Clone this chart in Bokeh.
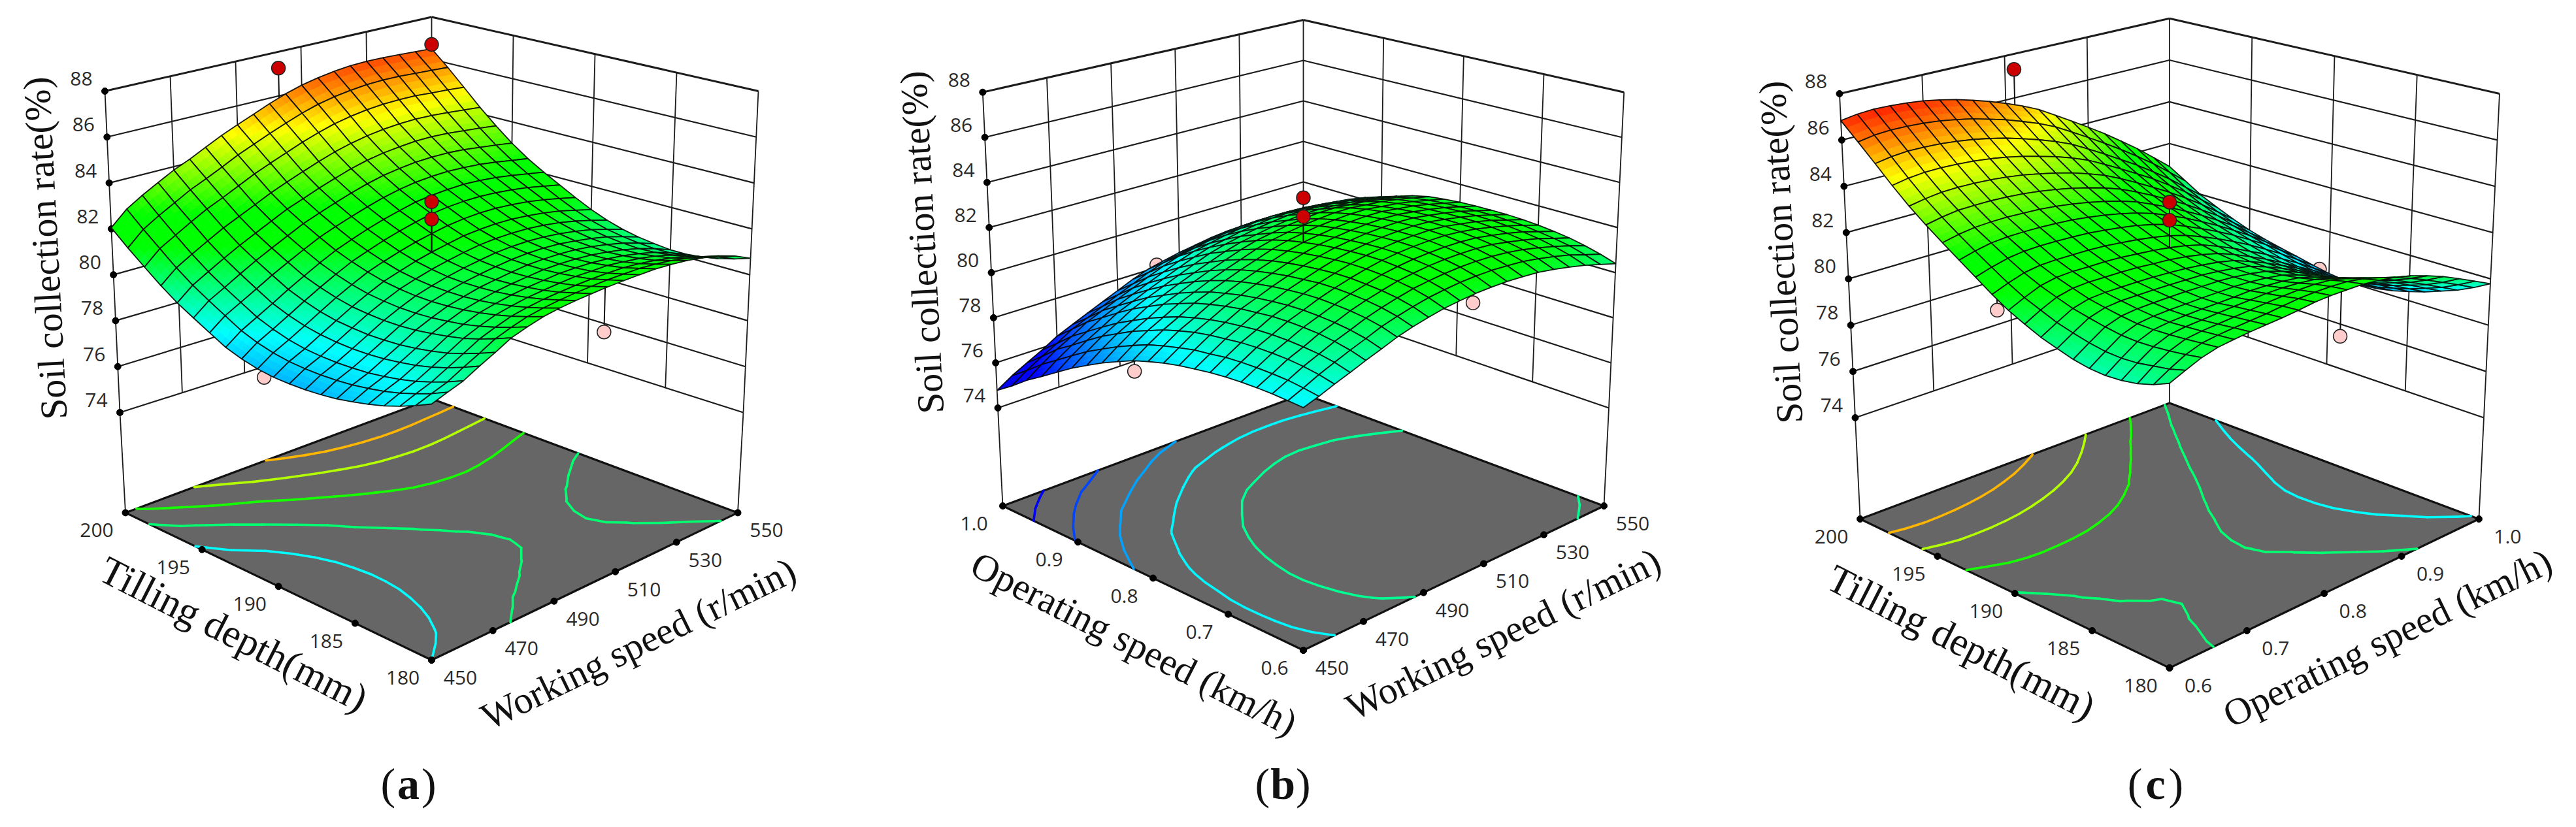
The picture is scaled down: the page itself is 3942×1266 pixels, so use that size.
import numpy as np
from bokeh.plotting import figure
from bokeh.layouts import row
from bokeh.models import ColumnDataSource
from bokeh.core.properties import value
from bokeh.embed import file_html
from bokeh.resources import INLINE

Z_TICKS = [74, 76, 78, 80, 82, 84, 86, 88]
TILLING = [180, 185, 190, 195, 200]
WORKING = [450, 470, 490, 510, 530, 550]
OPERATING = [0.6, 0.7, 0.8, 0.9, 1.0]

# Response tables, 21 x 21 mesh nodes. Rows: second factor low to high; columns: first factor low to high.
# All numbers are estimates from the picture: the rims were read against the axes and contours,
# the inner nodes were worked out by hand from those readings and corrected against the contour lines,
# not measured one by one.
Z_A = [
[79.60,79.30,79.03,78.80,78.62,78.47,78.34,78.26,78.21,78.20,78.22,78.31,78.47,78.70,79.06,79.43,79.82,80.30,80.85,81.42,82.05],
[79.83,79.54,79.29,79.08,78.91,78.78,78.68,78.62,78.59,78.60,78.65,78.76,78.94,79.19,79.57,79.96,80.37,80.87,81.45,82.04,82.68],
[80.05,79.77,79.53,79.32,79.16,79.04,78.94,78.90,78.88,78.90,78.96,79.09,79.29,79.55,79.93,80.32,80.75,81.26,81.84,82.45,83.10],
[80.40,80.12,79.87,79.66,79.50,79.38,79.29,79.24,79.23,79.26,79.33,79.46,79.66,79.92,80.30,80.70,81.13,81.64,82.23,82.83,83.48],
[80.72,80.45,80.21,80.00,79.85,79.73,79.64,79.60,79.59,79.63,79.70,79.84,80.05,80.31,80.68,81.07,81.49,82.01,82.60,83.21,83.85],
[81.07,80.81,80.57,80.37,80.23,80.11,80.02,79.97,79.96,80.00,80.07,80.22,80.42,80.67,81.03,81.41,81.82,82.32,82.91,83.52,84.15],
[81.28,81.04,80.82,80.64,80.49,80.39,80.31,80.27,80.27,80.32,80.40,80.56,80.77,81.03,81.37,81.74,82.15,82.64,83.24,83.85,84.50],
[81.46,81.24,81.04,80.87,80.74,80.64,80.57,80.54,80.55,80.61,80.71,80.88,81.10,81.36,81.70,82.07,82.48,82.97,83.58,84.20,84.85],
[81.57,81.36,81.17,81.01,80.89,80.80,80.74,80.73,80.75,80.82,80.93,81.12,81.35,81.62,81.96,82.33,82.74,83.25,83.87,84.50,85.15],
[81.64,81.45,81.27,81.13,81.02,80.94,80.90,80.89,80.92,81.01,81.14,81.34,81.59,81.87,82.20,82.58,83.01,83.52,84.15,84.80,85.45],
[81.69,81.51,81.33,81.20,81.11,81.04,81.00,81.01,81.06,81.16,81.31,81.53,81.79,82.08,82.42,82.81,83.25,83.78,84.43,85.08,85.75],
[81.73,81.55,81.38,81.26,81.17,81.11,81.09,81.11,81.17,81.29,81.45,81.68,81.97,82.26,82.62,83.02,83.48,84.02,84.68,85.35,86.02],
[81.75,81.58,81.41,81.31,81.23,81.18,81.17,81.19,81.27,81.40,81.58,81.82,82.12,82.43,82.78,83.19,83.66,84.21,84.89,85.57,86.24],
[81.76,81.58,81.42,81.30,81.23,81.19,81.19,81.23,81.31,81.45,81.64,81.90,82.21,82.52,82.89,83.30,83.79,84.36,85.04,85.73,86.40],
[81.76,81.58,81.41,81.30,81.21,81.17,81.18,81.23,81.32,81.46,81.67,81.94,82.25,82.57,82.95,83.38,83.87,84.46,85.15,85.84,86.52],
[81.71,81.52,81.34,81.22,81.14,81.11,81.13,81.18,81.28,81.44,81.65,81.93,82.25,82.59,82.97,83.41,83.93,84.52,85.22,85.92,86.60],
[81.63,81.43,81.24,81.12,81.04,81.00,81.03,81.08,81.19,81.36,81.58,81.87,82.20,82.55,82.93,83.40,83.93,84.54,85.24,85.95,86.63],
[81.50,81.28,81.10,80.98,80.89,80.86,80.89,80.95,81.07,81.25,81.48,81.78,82.12,82.47,82.87,83.34,83.89,84.51,85.23,85.94,86.62],
[81.33,81.10,80.91,80.78,80.70,80.67,80.71,80.79,80.91,81.09,81.34,81.65,82.00,82.35,82.76,83.24,83.81,84.45,85.17,85.89,86.58],
[81.07,80.84,80.65,80.52,80.43,80.42,80.47,80.56,80.69,80.89,81.15,81.48,81.84,82.21,82.63,83.14,83.73,84.38,85.12,85.85,86.54],
[80.72,80.50,80.32,80.20,80.13,80.13,80.20,80.30,80.45,80.67,80.95,81.30,81.68,82.07,82.50,83.02,83.63,84.30,85.05,85.80,86.50],
]
Z_B = [
[79.00,79.05,79.10,79.12,79.12,79.10,79.05,78.97,78.88,78.75,78.58,78.38,78.10,77.80,77.45,77.08,76.65,76.20,75.77,75.25,74.78],
[79.22,79.33,79.42,79.46,79.48,79.48,79.45,79.37,79.30,79.17,79.01,78.83,78.56,78.27,77.93,77.57,77.14,76.69,76.24,75.71,75.20],
[79.48,79.64,79.75,79.82,79.85,79.86,79.84,79.77,79.70,79.59,79.43,79.24,78.98,78.71,78.37,78.01,77.58,77.12,76.68,76.10,75.55],
[79.72,79.91,80.03,80.10,80.15,80.17,80.15,80.09,80.02,79.91,79.76,79.58,79.33,79.05,78.72,78.37,77.95,77.50,77.04,76.46,75.90],
[79.98,80.18,80.32,80.42,80.47,80.50,80.49,80.43,80.37,80.26,80.12,79.95,79.70,79.44,79.11,78.77,78.35,77.90,77.45,76.87,76.30],
[80.22,80.43,80.57,80.66,80.72,80.75,80.74,80.69,80.62,80.52,80.38,80.22,79.98,79.71,79.39,79.06,78.64,78.20,77.74,77.16,76.60],
[80.48,80.70,80.84,80.93,80.98,81.02,81.01,80.96,80.89,80.79,80.66,80.49,80.27,80.00,79.68,79.34,78.94,78.50,78.03,77.46,76.90],
[80.68,80.90,81.05,81.15,81.21,81.25,81.25,81.19,81.13,81.03,80.91,80.75,80.53,80.27,79.95,79.62,79.22,78.79,78.32,77.76,77.20],
[80.85,81.08,81.24,81.34,81.40,81.45,81.45,81.41,81.35,81.26,81.14,80.98,80.77,80.52,80.21,79.89,79.50,79.07,78.61,78.05,77.50],
[81.00,81.24,81.41,81.52,81.59,81.63,81.64,81.61,81.55,81.47,81.36,81.22,81.02,80.77,80.47,80.16,79.77,79.35,78.89,78.35,77.80],
[81.10,81.35,81.52,81.64,81.72,81.78,81.79,81.76,81.71,81.64,81.53,81.40,81.21,80.97,80.68,80.36,80.00,79.59,79.13,78.59,78.05],
[81.18,81.44,81.61,81.74,81.82,81.88,81.89,81.87,81.82,81.75,81.65,81.52,81.34,81.10,80.81,80.51,80.14,79.74,79.28,78.75,78.22],
[81.22,81.49,81.67,81.80,81.88,81.95,81.97,81.95,81.91,81.84,81.75,81.63,81.45,81.23,80.94,80.64,80.29,79.89,79.43,78.91,78.38],
[81.24,81.51,81.70,81.83,81.92,81.99,82.01,82.00,81.96,81.90,81.81,81.69,81.53,81.31,81.03,80.74,80.39,80.00,79.54,79.02,78.50],
[81.22,81.49,81.69,81.83,81.92,82.00,82.03,82.02,81.99,81.93,81.85,81.74,81.59,81.38,81.10,80.82,80.48,80.09,79.64,79.13,78.62],
[81.18,81.45,81.64,81.79,81.88,81.95,81.99,81.99,81.96,81.91,81.84,81.74,81.59,81.38,81.11,80.84,80.50,80.13,79.68,79.19,78.70],
[81.08,81.34,81.54,81.67,81.77,81.85,81.88,81.88,81.86,81.82,81.75,81.65,81.52,81.32,81.06,80.79,80.48,80.12,79.68,79.20,78.74],
[80.95,81.21,81.40,81.54,81.64,81.71,81.76,81.76,81.75,81.71,81.66,81.57,81.45,81.25,80.99,80.74,80.42,80.08,79.65,79.21,78.76],
[80.80,81.05,81.23,81.38,81.48,81.55,81.60,81.61,81.60,81.57,81.52,81.44,81.33,81.14,80.89,80.64,80.34,80.01,79.59,79.17,78.75],
[80.60,80.83,81.03,81.16,81.26,81.35,81.39,81.42,81.41,81.39,81.35,81.28,81.18,81.00,80.76,80.52,80.25,79.92,79.51,79.11,78.73],
[80.40,80.62,80.80,80.95,81.05,81.13,81.18,81.21,81.21,81.20,81.17,81.11,81.02,80.85,80.62,80.38,80.12,79.82,79.42,79.05,78.70],
]
Z_C = [
[80.40,80.13,79.95,79.85,79.82,79.87,80.00,80.20,80.42,80.72,81.05,81.47,81.95,82.43,82.93,83.45,84.02,84.68,85.40,86.12,86.84],
[80.68,80.51,80.41,80.31,80.28,80.32,80.44,80.61,80.80,81.08,81.36,81.73,82.16,82.61,83.08,83.59,84.15,84.81,85.52,86.24,86.95],
[80.95,80.85,80.78,80.73,80.71,80.75,80.86,81.00,81.16,81.39,81.64,81.95,82.33,82.75,83.18,83.69,84.24,84.88,85.58,86.29,87.00],
[81.13,81.08,81.03,80.99,80.97,80.99,81.08,81.20,81.34,81.55,81.78,82.06,82.42,82.81,83.22,83.71,84.26,84.89,85.57,86.28,86.98],
[81.22,81.18,81.13,81.09,81.06,81.08,81.16,81.27,81.39,81.60,81.82,82.09,82.45,82.82,83.23,83.71,84.25,84.86,85.54,86.24,86.93],
[81.30,81.25,81.19,81.14,81.11,81.12,81.19,81.28,81.40,81.59,81.81,82.09,82.44,82.81,83.20,83.68,84.21,84.81,85.47,86.16,86.85],
[81.36,81.31,81.25,81.20,81.15,81.14,81.21,81.29,81.40,81.59,81.81,82.08,82.42,82.78,83.17,83.63,84.14,84.73,85.37,86.04,86.72],
[81.42,81.37,81.31,81.25,81.17,81.17,81.22,81.28,81.39,81.57,81.78,82.05,82.38,82.73,83.10,83.54,84.04,84.61,85.23,85.90,86.56],
[81.50,81.46,81.38,81.29,81.20,81.18,81.21,81.27,81.36,81.52,81.72,81.98,82.30,82.64,83.00,83.42,83.90,84.46,85.06,85.70,86.35],
[81.60,81.54,81.43,81.34,81.24,81.20,81.21,81.26,81.32,81.48,81.66,81.90,82.21,82.53,82.87,83.28,83.74,84.27,84.85,85.49,86.12],
[81.65,81.58,81.47,81.35,81.23,81.18,81.17,81.19,81.25,81.39,81.56,81.79,82.09,82.39,82.71,83.10,83.55,84.06,84.61,85.23,85.85],
[81.66,81.59,81.48,81.32,81.19,81.12,81.09,81.10,81.15,81.26,81.43,81.65,81.92,82.21,82.52,82.89,83.31,83.81,84.34,84.95,85.55],
[81.67,81.57,81.43,81.25,81.11,81.02,80.97,80.97,81.00,81.09,81.25,81.45,81.71,81.98,82.28,82.63,83.04,83.51,84.02,84.61,85.20],
[81.60,81.46,81.27,81.08,80.91,80.80,80.74,80.72,80.74,80.83,80.97,81.17,81.42,81.67,81.95,82.29,82.68,83.12,83.61,84.18,84.75],
[81.50,81.28,81.07,80.86,80.68,80.56,80.47,80.43,80.45,80.51,80.65,80.86,81.09,81.35,81.61,81.92,82.29,82.71,83.18,83.73,84.28],
[81.33,81.06,80.80,80.59,80.40,80.26,80.16,80.11,80.11,80.17,80.30,80.51,80.74,80.97,81.22,81.52,81.87,82.28,82.72,83.26,83.80],
[81.10,80.79,80.51,80.29,80.08,79.94,79.82,79.76,79.75,79.79,79.94,80.13,80.35,80.57,80.82,81.10,81.43,81.83,82.25,82.77,83.30],
[80.83,80.48,80.18,79.95,79.73,79.57,79.44,79.37,79.34,79.38,79.51,79.71,79.92,80.13,80.36,80.62,80.95,81.32,81.73,82.24,82.75],
[80.50,80.14,79.84,79.61,79.38,79.21,79.06,78.98,78.93,78.96,79.08,79.26,79.47,79.66,79.88,80.13,80.43,80.79,81.18,81.68,82.18],
[80.15,79.79,79.47,79.23,78.99,78.81,78.64,78.54,78.49,78.50,78.61,78.77,78.96,79.14,79.33,79.57,79.86,80.20,80.57,81.06,81.55],
[79.79,79.42,79.10,78.85,78.60,78.40,78.22,78.10,78.03,78.02,78.12,78.27,78.44,78.60,78.78,79.00,79.28,79.60,79.95,80.42,80.90],
]

LEVELS_A = [79.6, 81.1, 82.5, 84.0, 85.5]
LEVELS_B = [75.8, 77.0, 78.3, 79.5, 80.75]
LEVELS_C = [79.6, 81.1, 82.5, 84.0, 85.5]

# design points: first factor, second factor, response
RED_A = [(200, 503, 87.26), (200, 550, 86.7), (190, 500, 83.5), (190, 500, 82.74)]
PINK_A = [(190.6, 450, 78.06), (189, 550, 75.62)]
RED_B = [(0.8, 500, 83.49), (0.8, 500, 82.66)]
PINK_B = [(1.0, 502.7, 78.12), (0.818, 450, 77.96), (0.78, 550, 76.7)]
RED_C = [(200, 0.811, 87.3), (190, 0.8, 83.51), (190, 0.8, 82.73)]
PINK_C = [(190.6, 1.0, 78.18), (190.7, 0.6, 80.9), (189.2, 1.0, 75.45)]

# colour scale of the surface
SURF_Z = [74.5, 76.0, 79.1, 81.5, 82.5, 84.9, 87.3]
SURF_R = [0, 0, 0, 0, 0, 255, 255]
SURF_G = [0, 0, 255, 255, 255, 255, 0]
SURF_B = [225, 255, 255, 0, 0, 0, 0]
# colour scale of the contour lines
LINE_Z = [74.0, 76.0, 79.6, 82.3, 84.7, 87.5]
LINE_R = [0, 0, 0, 0, 255, 255]
LINE_G = [0, 0, 255, 255, 255, 0]
LINE_B = [210, 255, 255, 0, 0, 0]

def colour(z, Zs=SURF_Z, R=SURF_R, G=SURF_G, B=SURF_B):
    return "#%02x%02x%02x" % (int(np.interp(z, Zs, R)), int(np.interp(z, Zs, G)), int(np.interp(z, Zs, B)))

def bil(c, u, v):
    # c = (front, left(u=1), right(v=1), back)
    return c[0]*(1-u)*(1-v) + c[1]*u*(1-v) + c[2]*(1-u)*v + c[3]*u*v

GEOM = {
 "a": dict(cx=668, hi_x=500, lo_x=477, fl_x=468.5, y88=(302,147,147,33.5), y74=(842,639,639,487), fl=(1018,792.4,792.4,618)),
 "b": dict(cx=2002, hi_x=490.7, lo_x=467.5, fl_x=460, y88=(276,148.7,148.7,38), y74=(829,632,632,472), fl=(1003,782,782,610.5)),
 "c": dict(cx=3327.5, hi_x=505, lo_x=481, fl_x=473.4, y88=(287,151,151,35.7), y74=(853,647,647,482.6), fl=(1030,802,802,624.6)),
}

def build(name, x0, x1, Z, A, B, levels, red, pink, atitle, btitle, ztitle_xy, atitle_xy, btitle_xy, sub_x, sub):
    g = GEOM[name]
    Z = np.array(Z)
    A = np.array(A, float); B = np.array(B, float)
    un = lambda a: (a - A[0])/(A[-1]-A[0])
    vn = lambda b: (b - B[0])/(B[-1]-B[0])
    def P(u, v, z):
        zeta = (z-74)/14.0
        hx = g["lo_x"] + (g["hi_x"]-g["lo_x"])*zeta
        y = bil(g["y74"], u, v) + (bil(g["y88"], u, v)-bil(g["y74"], u, v))*zeta
        return g["cx"] + hx*(v-u), y
    def F(u, v):
        return g["cx"] + g["fl_x"]*(v-u), bil(g["fl"], u, v)
    def surf(u, v):
        nv, nu = Z.shape
        fi = min(u*(nu-1), nu-1.001); fj = min(v*(nv-1), nv-1.001)
        i = int(fi); j = int(fj); s = fi-i; t = fj-j
        return Z[j,i]*(1-s)*(1-t)+Z[j,i+1]*s*(1-t)+Z[j+1,i]*(1-s)*t+Z[j+1,i+1]*s*t

    p = figure(width=x1-x0, height=1250, x_range=(x0, x1), y_range=(1258, 8), toolbar_location=None,
               output_backend="svg", x_axis_location=None, y_axis_location=None, min_border=0, outline_line_color=None)
    p.grid.visible = False
    p.background_fill_color = "white"; p.border_fill_color = "white"

    # walls
    wx, wy, ww = [], [], []
    def seg(a, b, w):
        wx.append([a[0], b[0]]); wy.append([a[1], b[1]]); ww.append(w)
    for z in Z_TICKS:
        w = 3.0 if z == 88 else 2.2
        seg(P(1,0,z), P(1,1,z), w); seg(P(1,1,z), P(0,1,z), w)
    for b in B[1:-1]:
        seg(P(1,vn(b),74), P(1,vn(b),88), 1.8)
    for a in A[1:-1]:
        seg(P(un(a),1,74), P(un(a),1,88), 1.8)
    for c in [(1,0),(1,1),(0,1)]:
        t = P(c[0],c[1],88); l = P(c[0],c[1],74); f = F(*c)
        seg(t, l, 1.8); seg(l, f, 1.8)
    p.multi_line(wx, wy, line_color="#1c1c1c", line_width=ww)

    # floor
    cor = [F(0,0), F(1,0), F(1,1), F(0,1)]
    p.patch([c[0] for c in cor], [c[1] for c in cor], fill_color="#666666", line_color="#111111", line_width=3.2)

    # contours
    nv, nu = Z.shape
    cx, cy, cc = [], [], []
    for lev in levels:
        lc_ = colour(lev, LINE_Z, LINE_R, LINE_G, LINE_B)
        for j in range(nv-1):
            for i in range(nu-1):
                q = [(i,j),(i+1,j),(i+1,j+1),(i,j+1)]
                pts = []
                for k in range(4):
                    a, b = q[k], q[(k+1)%4]
                    za, zb = Z[a[1],a[0]], Z[b[1],b[0]]
                    if (za < lev) != (zb < lev):
                        t = (lev-za)/(zb-za)
                        pts.append(((a[0]+t*(b[0]-a[0]))/(nu-1), (a[1]+t*(b[1]-a[1]))/(nv-1)))
                for n in range(0, len(pts)-1, 2):
                    f0 = F(*pts[n]); f1 = F(*pts[n+1])
                    cx.append([f0[0], f1[0]]); cy.append([f0[1], f1[1]]); cc.append(lc_)
    if cx:
        p.multi_line(cx, cy, line_color=cc, line_width=3.6, line_cap="round")

    # tick dots
    dots = [P(1,0,z) for z in Z_TICKS] + [F(un(a),0) for a in A] + [F(0,vn(b)) for b in B]
    p.scatter([d[0] for d in dots], [d[1] for d in dots], size=10, color="black")

    # points below the surface
    sx, sy = [], []
    for a, b, z in pink:
        u, v = un(a), vn(b)
        s0 = P(u,v,z); s1 = P(u,v,surf(u,v))
        sx.append([s0[0], s1[0]]); sy.append([s0[1], s1[1]])
    p.multi_line(sx, sy, line_color="#111111", line_width=2)
    pk = [P(un(a),vn(b),z) for a,b,z in pink]
    p.scatter([q[0] for q in pk], [q[1] for q in pk], size=21, fill_color="#ffcccc", line_color="#222222", line_width=1.5)

    # surface, back to front
    order = sorted(((i,j) for j in range(nv-1) for i in range(nu-1)), key=lambda c: -(c[0]/(nu-1)+c[1]/(nv-1)))
    sub_n = 3
    xs, ys, fc, lc, fa, la, lw = [], [], [], [], [], [], []
    for i, j in order:
        u0, u1 = i/(nu-1), (i+1)/(nu-1); v0, v1 = j/(nv-1), (j+1)/(nv-1)
        z00, z10, z01, z11 = Z[j,i], Z[j,i+1], Z[j+1,i], Z[j+1,i+1]
        c00, c10, c01, c11 = P(u0,v0,z00), P(u1,v0,z10), P(u0,v1,z01), P(u1,v1,z11)
        for a in range(sub_n):
            for b in range(sub_n):
                q = []
                for s, t in [(a/sub_n,b/sub_n),((a+1)/sub_n,b/sub_n),((a+1)/sub_n,(b+1)/sub_n),(a/sub_n,(b+1)/sub_n)]:
                    q.append((c00[0]*(1-s)*(1-t)+c10[0]*s*(1-t)+c01[0]*(1-s)*t+c11[0]*s*t,
                              c00[1]*(1-s)*(1-t)+c10[1]*s*(1-t)+c01[1]*(1-s)*t+c11[1]*s*t))
                s, t = (a+.5)/sub_n, (b+.5)/sub_n
                col = colour(z00*(1-s)*(1-t)+z10*s*(1-t)+z01*(1-s)*t+z11*s*t)
                xs.append([e[0] for e in q]); ys.append([e[1] for e in q])
                fc.append(col); lc.append(col); fa.append(1.0); la.append(1.0); lw.append(0.8)
        xs.append([c00[0],c10[0],c11[0],c01[0]]); ys.append([c00[1],c10[1],c11[1],c01[1]])
        fc.append("#000000"); lc.append("#050505"); fa.append(0.0); la.append(0.9); lw.append(1.8)
    p.patches("xs", "ys", source=ColumnDataSource(dict(xs=xs, ys=ys, fc=fc, lc=lc, fa=fa, la=la, lw=lw)),
              fill_color="fc", line_color="lc", fill_alpha="fa", line_alpha="la", line_width="lw")

    # points above the surface
    sx, sy = [], []
    for a, b, z in red:
        u, v = un(a), vn(b)
        s0 = P(u,v,z); s1 = P(u,v,surf(u,v))
        sx.append([s0[0], s1[0]]); sy.append([s0[1], s1[1]])
    p.multi_line(sx, sy, line_color="#111111", line_width=2)
    rd = [P(un(a),vn(b),z) for a,b,z in red]
    p.scatter([q[0] for q in rd], [q[1] for q in rd], size=21, fill_color="#cc0000", line_color="#222222", line_width=1.5)

    # tick labels
    tx, ty, tt = [], [], []
    for z in Z_TICKS:
        q = P(1,0,z); tx.append(q[0]-36); ty.append(q[1]-19); tt.append(str(z))
    for a in A:
        q = F(un(a),0); tx.append(q[0]-44); ty.append(q[1]+27); tt.append(("%.1f" % a) if a < 10 else str(int(a)))
    for b in B:
        q = F(0,vn(b)); tx.append(q[0]+44); ty.append(q[1]+27); tt.append(("%.1f" % b) if b < 10 else str(int(b)))
    p.text(tx, ty, text=tt, text_font=value("Open Sans"), text_font_size="30px", text_align="center",
           text_baseline="middle", text_color="#2a2a2a")

    # titles
    serif = value("Liberation Serif")
    p.text([ztitle_xy[0]], [ztitle_xy[1]], text=["Soil collection rate(%)"], angle=[np.radians(93)], text_font=serif,
           text_font_size="58px", text_align="center", text_baseline="middle", text_color="#111111")
    for title, xy, ang in [(atitle, atitle_xy, -27), (btitle, btitle_xy, 26)]:
        size = "61px" if title.startswith("Tilling") else "58px"
        p.text([xy[0]], [xy[1]], text=[title], angle=[np.radians(ang)], text_font=serif,
               text_font_size=size, text_align="center", text_baseline="middle", text_color="#111111")
    p.text([sub_x-20], [1207], text=["("], text_font=serif, text_font_size="68px", text_align="right", text_baseline="middle", text_color="#111111")
    p.text([sub_x], [1207], text=[sub], text_font=serif, text_font_style="bold", text_font_size="68px", text_align="center", text_baseline="middle", text_color="#111111")
    p.text([sub_x+20], [1207], text=[")"], text_font=serif, text_font_size="68px", text_align="left", text_baseline="middle", text_color="#111111")
    return p

pa = build("a", 8, 1290, Z_A, TILLING, WORKING, LEVELS_A, RED_A, PINK_A, "Tilling depth(mm)", "Working speed (r/min)",
           (76.7,387.5), (365.4,978), (984.6,992.8), 632.6, "a")
pb = build("b", 1290, 2580, Z_B, OPERATING, WORKING, LEVELS_B, RED_B, PINK_B, "Operating speed (km/h)", "Working speed (r/min)",
           (1418.6,378.5), (1743,992.9), (2308,978), 1970.6, "b")
pc = build("c", 2580, 3934, Z_C, TILLING, OPERATING, LEVELS_C, RED_C, PINK_C, "Tilling depth(mm)", "Operating speed (km/h)",
           (2732.7,393.7), (3009,990.7), (3661,984), 3306, "c")

open("out.html", "w").write(file_html(row(pa, pb, pc, spacing=0), INLINE))
